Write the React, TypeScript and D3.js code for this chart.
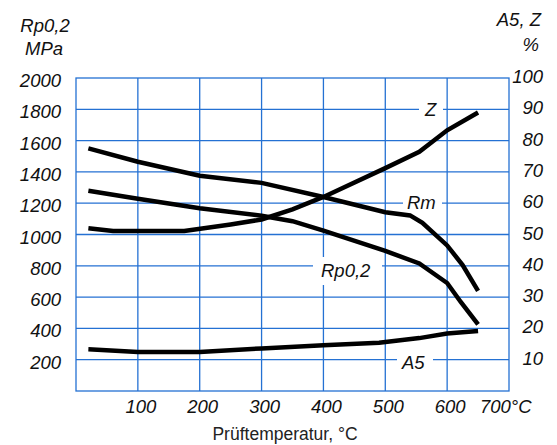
import React from "react";
import * as d3 from "d3";

const W = 557;
const H = 445;

const xTicks = [100, 200, 300, 400, 500, 600];
const leftTicks = [200, 400, 600, 800, 1000, 1200, 1400, 1600, 1800, 2000];
const rightTicks = [10, 20, 30, 40, 50, 60, 70, 80, 90, 100];

// MPa series (temperature °C, value)
const rmData: [number, number][] = [
  [20, 1550], [100, 1465], [200, 1375], [300, 1330], [400, 1240], [500, 1142],
  [540, 1122], [560, 1075], [600, 930], [625, 805], [650, 640],
];
const rpData: [number, number][] = [
  [20, 1280], [100, 1228], [200, 1168], [300, 1120], [350, 1085], [400, 1025],
  [500, 895], [555, 815], [600, 690], [622, 569], [650, 425],
];
// % series
const zData: [number, number][] = [
  [20, 52], [60, 51.1], [175, 51.1], [250, 53.2], [300, 54.8], [350, 58],
  [400, 62], [500, 71.2], [555, 76.4], [600, 83.3], [650, 89],
];
const a5Data: [number, number][] = [
  [20, 13.3], [100, 12.5], [200, 12.5], [300, 13.6], [400, 14.6], [490, 15.4],
  [555, 16.9], [600, 18.4], [650, 19.2],
];

const GRID = "#2471d3";
const FONT = "'Liberation Sans', Arial, Helvetica, sans-serif";
const TXT = "#111";

export default function App() {
  const left = 76, right = 509, top = 78, bottom = 391;
  const x = d3.scaleLinear().domain([0, 700]).range([left, right]);
  const yL = d3.scaleLinear().domain([0, 2000]).range([bottom, top]);
  const yR = d3.scaleLinear().domain([0, 100]).range([bottom, top]);

  const lineL = d3.line<[number, number]>().x(d => x(d[0])).y(d => yL(d[1]));
  const lineR = d3.line<[number, number]>().x(d => x(d[0])).y(d => yR(d[1]));

  const labels = [
    { text: "Z", tx: 425, ty: 116, rx: 419, ry: 100, rw: 24, rh: 18 },
    { text: "Rm", tx: 407, ty: 209, rx: 403, ry: 193, rw: 39, rh: 18 },
    { text: "Rp0,2", tx: 321, ty: 277, rx: 313, ry: 257, rw: 69, rh: 28 },
    { text: "A5", tx: 402, ty: 369, rx: 397, ry: 352, rw: 36, rh: 18 },
  ];

  const fs = 18.5;

  return (
    <svg width={W} height={H} style={{ position: "absolute", left: 0, top: 0, background: "#fff" }}
      fontFamily={FONT}>
      <rect x={0} y={0} width={W} height={H} fill="#fff" />
      {/* grid */}
      {xTicks.map(t => (
        <line key={"gx" + t} x1={x(t)} x2={x(t)} y1={top} y2={bottom} stroke={GRID} strokeWidth={1.3} />
      ))}
      {leftTicks.slice(0, -1).map(t => (
        <line key={"gy" + t} x1={left} x2={right} y1={yL(t)} y2={yL(t)} stroke={GRID} strokeWidth={1.3} />
      ))}
      <rect x={left} y={top} width={right - left} height={bottom - top} fill="none" stroke={GRID} strokeWidth={1.3} />

      {/* label backgrounds */}
      {labels.map(l => (
        <rect key={"bg" + l.text} x={l.rx} y={l.ry} width={l.rw} height={l.rh} fill="#fff" />
      ))}

      {/* curves */}
      <path d={lineL(rmData) || ""} fill="none" stroke="#000" strokeWidth={4.5} />
      <path d={lineL(rpData) || ""} fill="none" stroke="#000" strokeWidth={4.5} />
      <path d={lineR(zData) || ""} fill="none" stroke="#000" strokeWidth={4.5} />
      <path d={lineR(a5Data) || ""} fill="none" stroke="#000" strokeWidth={4.5} />

      {/* curve labels */}
      {labels.map(l => (
        <text key={"t" + l.text} x={l.tx} y={l.ty} fontSize={fs} fontStyle="italic" fill={TXT}>{l.text}</text>
      ))}

      {/* left ticks */}
      {leftTicks.map(t => (
        <text key={"lt" + t} x={61} y={yL(t) + 9} fontSize={fs} fontStyle="italic" textAnchor="end" fill={TXT}>{t}</text>
      ))}
      {/* right ticks */}
      {rightTicks.map(t => (
        <text key={"rt" + t} x={543} y={yR(t) + 5} fontSize={fs} fontStyle="italic" textAnchor="end" fill={TXT}>{t}</text>
      ))}
      {/* bottom ticks */}
      {xTicks.map(t => (
        <text key={"bt" + t} x={x(t) + 3} y={413} fontSize={fs} fontStyle="italic" textAnchor="middle" fill={TXT}>{t}</text>
      ))}
      <text x={480} y={413} fontSize={fs} fontStyle="italic" fill={TXT}>700°C</text>

      {/* headers */}
      <text x={45} y={32} fontSize={fs} fontStyle="italic" textAnchor="middle" fill={TXT}>Rp0,2</text>
      <text x={44} y={55} fontSize={fs} fontStyle="italic" textAnchor="middle" fill={TXT}>MPa</text>
      <text x={541} y={26} fontSize={fs} fontStyle="italic" textAnchor="end" fill={TXT}>A5, Z</text>
      <text x={539} y={51} fontSize={fs} fontStyle="italic" textAnchor="end" fill={TXT}>%</text>

      <text x={285} y={440} fontSize={17.5} textAnchor="middle" fill="#222">Prüftemperatur, °C</text>
    </svg>
  );
}
